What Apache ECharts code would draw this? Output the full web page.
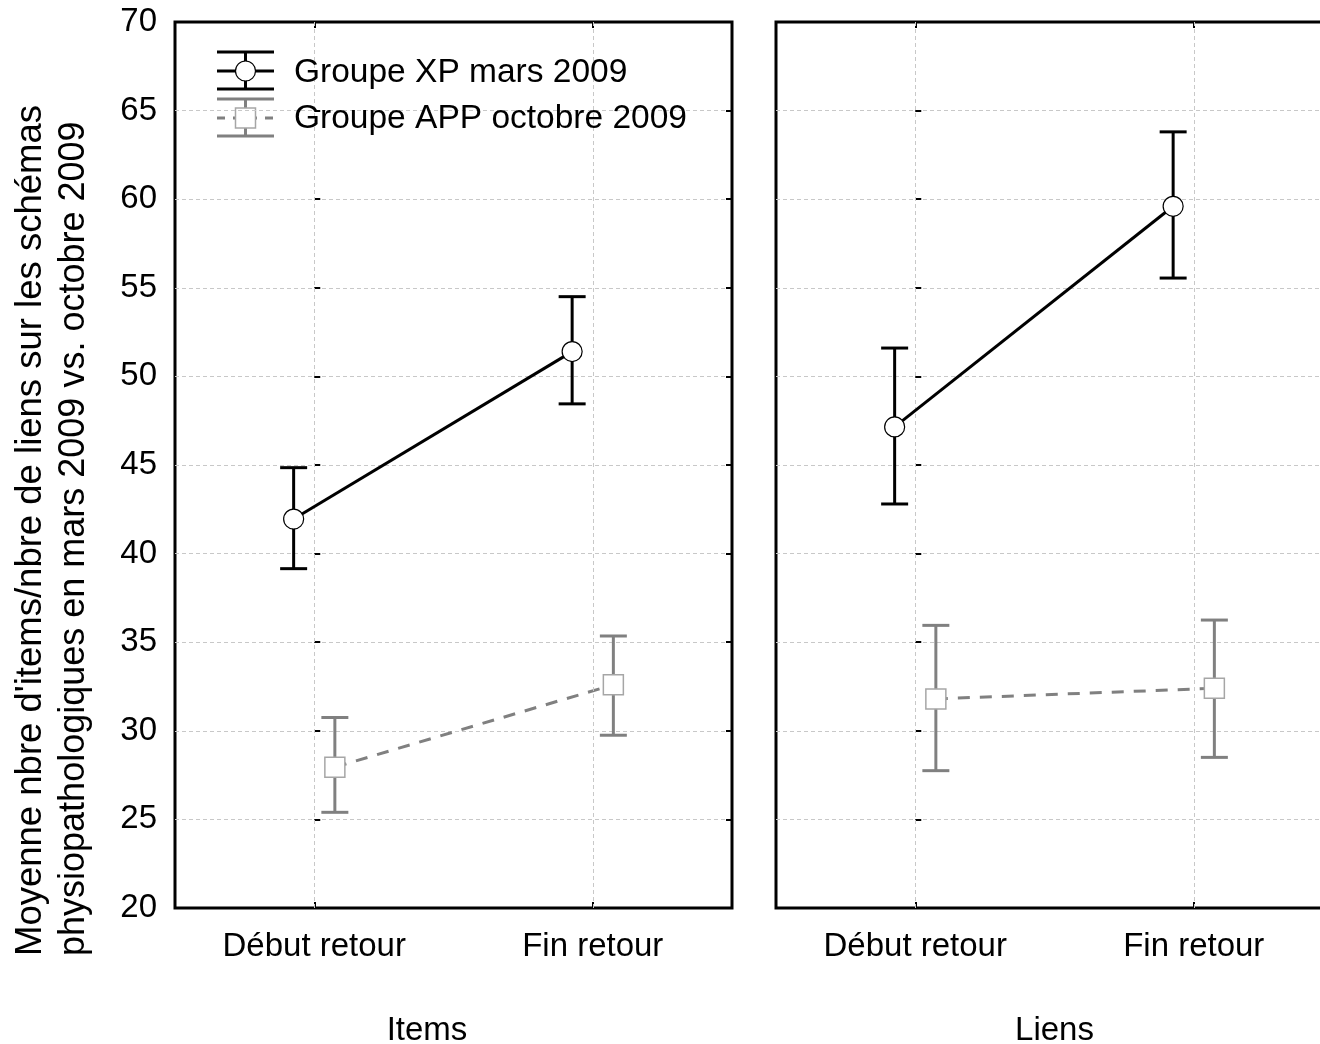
<!DOCTYPE html>
<html>
<head>
<meta charset="utf-8">
<script src="https://cdn.jsdelivr.net/npm/echarts@6/dist/echarts.min.js"></script>
<style>
html,body{margin:0;padding:0;background:#fff;}
#chart{width:1320px;height:1044px;}
</style>
</head>
<body>
<div id="chart"></div>
<script>
// ---- data ----
var categories = ['Début retour', 'Fin retour'];
var panelNames = ['Items', 'Liens'];
var yTicks = [20, 25, 30, 35, 40, 45, 50, 55, 60, 65, 70];
var seriesNames = ['Groupe XP mars 2009', 'Groupe APP octobre 2009'];

var xpItemsMean = [41.95, 51.4];
var xpItemsLow  = [39.15, 48.45];
var xpItemsHigh = [44.85, 54.5];

var appItemsMean = [27.95, 32.6];
var appItemsLow  = [25.4, 29.75];
var appItemsHigh = [30.75, 35.35];

var xpLiensMean = [47.15, 59.6];
var xpLiensLow  = [42.8, 55.55];
var xpLiensHigh = [51.6, 63.8];

var appLiensMean = [31.8, 32.4];
var appLiensLow  = [27.75, 28.5];
var appLiensHigh = [35.95, 36.25];

// ---- style constants ----
var FONT = 'Liberation Sans, Arial, sans-serif';
var DODGE = 0.074;          // horizontal dodge in category-index units
var CAP = 13.5;             // half cap width px
var XP_COLOR = '#000000';
var APP_COLOR = '#808080';
var GRID_LINE = { color: '#c8c8c8', width: 1, type: [4, 3] };

var chart = echarts.init(document.getElementById('chart'), null, { renderer: 'canvas' });

function errBarRender(color) {
  return function (params, api) {
    var x = api.value(0), lo = api.value(2), hi = api.value(3);
    var pt = api.coord([x, hi]);
    var pb = api.coord([x, lo]);
    var st = { stroke: color, lineWidth: 3 };
    return {
      type: 'group',
      children: [
        { type: 'line', shape: { x1: pt[0], y1: pt[1], x2: pb[0], y2: pb[1] }, style: st },
        { type: 'line', shape: { x1: pt[0] - CAP, y1: pt[1], x2: pt[0] + CAP, y2: pt[1] }, style: st },
        { type: 'line', shape: { x1: pb[0] - CAP, y1: pb[1], x2: pb[0] + CAP, y2: pb[1] }, style: st }
      ]
    };
  };
}

function buildData(mean, low, high, dodge) {
  return categories.map(function (c, i) { return [i + dodge, mean[i], low[i], high[i]]; });
}

var grids = [
  { left: 175, top: 22, width: 557, height: 886 },
  { left: 776, top: 22, width: 557, height: 886 }
];
grids.forEach(function (g) {
  g.show = true; g.borderColor = '#000'; g.borderWidth = 3; g.backgroundColor = 'transparent';
  g.containLabel = false; g.outerBoundsMode = 'none';
});

var xAxes = [], yAxes = [], series = [];
var panelData = [
  { xp: [xpItemsMean, xpItemsLow, xpItemsHigh], app: [appItemsMean, appItemsLow, appItemsHigh] },
  { xp: [xpLiensMean, xpLiensLow, xpLiensHigh], app: [appLiensMean, appLiensLow, appLiensHigh] }
];

panelData.forEach(function (pd, gi) {
  var base = xAxes.length;
  xAxes.push({
    type: 'category', gridIndex: gi, position: 'bottom', data: categories,
    boundaryGap: true,
    axisLine: { show: false },
    axisTick: { show: true, inside: true, alignWithLabel: true, length: 6, lineStyle: { color: '#000', width: 2 } },
    axisLabel: { color: '#000', fontSize: 33, fontFamily: FONT, margin: 22 },
    splitLine: { show: false },
    name: panelNames[gi], nameLocation: 'middle', nameGap: 106,
    nameTextStyle: { color: '#000', fontSize: 33, fontFamily: FONT, padding: gi === 0 ? [0, 53, 0, 0] : 0 }
  });
  xAxes.push({
    type: 'category', gridIndex: gi, position: 'top', data: categories,
    boundaryGap: true,
    axisLine: { show: false },
    axisTick: { show: true, inside: true, alignWithLabel: true, length: 6, lineStyle: { color: '#000', width: 2 } },
    axisLabel: { show: false },
    splitLine: { show: false }
  });
  xAxes.push({
    type: 'value', gridIndex: gi, min: -0.5, max: 1.5, show: false, splitLine: { show: false }
  });
  var ybase = yAxes.length;
  yAxes.push({
    type: 'value', gridIndex: gi, position: 'left', min: 20, max: 70, interval: 5,
    axisLine: { show: false },
    axisTick: { show: true, inside: true, length: 6, lineStyle: { color: '#000', width: 2 } },
    axisLabel: { show: gi === 0, color: '#000', fontSize: 33, fontFamily: FONT, margin: 18,
      formatter: function (v) { return yTicks.indexOf(v) >= 0 ? String(v) : ''; } },
    splitLine: { show: true, showMinLine: false, showMaxLine: false, lineStyle: GRID_LINE }
  });
  yAxes.push({
    type: 'value', gridIndex: gi, position: 'right', min: 20, max: 70, interval: 5,
    axisLine: { show: false },
    axisTick: { show: true, inside: true, length: 6, lineStyle: { color: '#000', width: 2 } },
    axisLabel: { show: false },
    splitLine: { show: false }
  });
  var vx = base + 2;
  // vertical grid lines at category centres
  series.push({
    type: 'custom', name: 'grid' + gi, xAxisIndex: vx, yAxisIndex: ybase, silent: true, z: 1,
    renderItem: function () { return { type: 'group', children: [] }; },
    data: [],
    markLine: {
      silent: true, symbol: 'none', label: { show: false },
      lineStyle: GRID_LINE,
      data: categories.map(function (c, i) { return { xAxis: i }; })
    }
  });
  // error bars
  series.push({
    type: 'custom', name: seriesNames[1], xAxisIndex: vx, yAxisIndex: ybase, z: 3,
    renderItem: errBarRender(APP_COLOR),
    data: buildData(pd.app[0], pd.app[1], pd.app[2], DODGE)
  });
  series.push({
    type: 'custom', name: seriesNames[0], xAxisIndex: vx, yAxisIndex: ybase, z: 3,
    renderItem: errBarRender(XP_COLOR),
    data: buildData(pd.xp[0], pd.xp[1], pd.xp[2], -DODGE)
  });
  // means
  series.push({
    type: 'line', name: seriesNames[1], xAxisIndex: vx, yAxisIndex: ybase, z: 4,
    data: buildData(pd.app[0], pd.app[1], pd.app[2], DODGE).map(function (d) { return [d[0], d[1]]; }),
    symbol: 'rect', symbolSize: 20, showAllSymbol: true,
    itemStyle: { color: '#fff', borderColor: '#a6a6a6', borderWidth: 1.5 },
    lineStyle: { color: APP_COLOR, width: 3, type: [12, 10] },
    animation: false
  });
  series.push({
    type: 'line', name: seriesNames[0], xAxisIndex: vx, yAxisIndex: ybase, z: 5,
    data: buildData(pd.xp[0], pd.xp[1], pd.xp[2], -DODGE).map(function (d) { return [d[0], d[1]]; }),
    symbol: 'circle', symbolSize: 20, showAllSymbol: true,
    itemStyle: { color: '#fff', borderColor: '#000', borderWidth: 1.2 },
    lineStyle: { color: XP_COLOR, width: 3 },
    animation: false
  });
});

// legend drawn as graphic (error-bar style icons)
function legendIcon(yTop, yMid, yBot, color, dashed, marker) {
  var st = { stroke: color, lineWidth: 3 };
  var kids = [
    { type: 'line', shape: { x1: 217, y1: yTop, x2: 274, y2: yTop }, style: st },
    { type: 'line', shape: { x1: 217, y1: yBot, x2: 274, y2: yBot }, style: st },
    { type: 'line', shape: { x1: 245.5, y1: yTop, x2: 245.5, y2: yBot }, style: st },
    { type: 'line', shape: { x1: 217, y1: yMid, x2: 274, y2: yMid },
      style: { stroke: color, lineWidth: 3, lineDash: dashed ? [8, 8] : null } }
  ];
  if (marker === 'circle') {
    kids.push({ type: 'circle', shape: { cx: 245.5, cy: yMid, r: 10 }, style: { fill: '#fff', stroke: '#000', lineWidth: 1.2 } });
  } else {
    kids.push({ type: 'rect', shape: { x: 235.5, y: yMid - 10, width: 20, height: 20 }, style: { fill: '#fff', stroke: '#a6a6a6', lineWidth: 1.5 } });
  }
  return { type: 'group', z: 20, children: kids };
}

var graphic = [
  legendIcon(52, 71, 89, XP_COLOR, false, 'circle'),
  legendIcon(99, 118, 136, APP_COLOR, true, 'rect'),
  { type: 'text', z: 20, x: 294, y: 73, style: { text: seriesNames[0], fill: '#000', font: '33.5px ' + FONT, textVerticalAlign: 'middle' } },
  { type: 'text', z: 20, x: 294, y: 119, style: { text: seriesNames[1], fill: '#000', font: '33.5px ' + FONT, textVerticalAlign: 'middle' } },
  { type: 'text', z: 20, x: 31, y: 956, rotation: Math.PI / 2,
    style: { text: "Moyenne nbre d'items/nbre de liens sur les schémas", fill: '#000', font: '36.5px ' + FONT, textAlign: 'left', textVerticalAlign: 'middle' } },
  { type: 'text', z: 20, x: 74, y: 956, rotation: Math.PI / 2,
    style: { text: 'physiopathologiques en mars 2009 vs. octobre 2009', fill: '#000', font: '36px ' + FONT, textAlign: 'left', textVerticalAlign: 'middle' } }
];

chart.setOption({
  backgroundColor: '#fff',
  animation: false,
  grid: grids,
  xAxis: xAxes,
  yAxis: yAxes,
  series: series,
  graphic: graphic
});
</script>
</body>
</html>
